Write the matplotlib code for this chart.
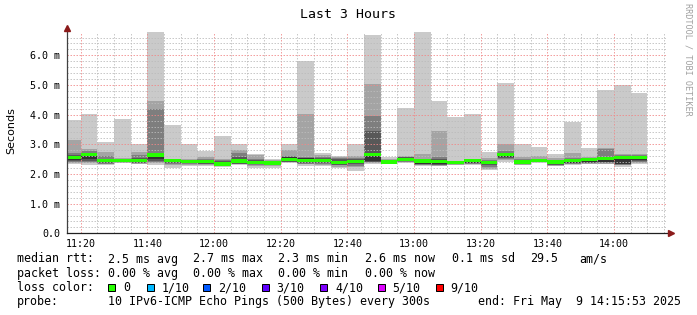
import numpy as np
import matplotlib.pyplot as plt
from matplotlib.patches import Rectangle

# 5-minute slots, minutes after 11:00 (first slot 11:15 .. last 14:05)
slot_start = np.arange(15, 190, 5)

# ping distribution per slot (ms), 10 pings sorted: min, p2..p9, max
p_max = [3.82, 4.01, 3.07, 3.85, 3.01, 6.90, 3.65, 3.01, 2.78, 3.29, 3.01, 2.67, 2.50, 3.00, 5.82, 2.72, 2.61, 3.01,
         6.69, 2.58, 4.22, 6.90, 4.46, 3.91, 4.01, 2.75, 5.06, 3.01, 2.90, 2.66, 3.76, 2.86, 4.83, 5.00, 4.72]
p9 = [3.15, 2.84, 2.75, 2.53, 2.73, 4.46, 2.50, 2.50, 2.58, 2.52, 2.81, 2.64, 2.48, 2.81, 4.02, 2.64, 2.58, 2.62,
      5.02, 2.52, 2.61, 2.68, 3.45, 2.45, 2.50, 2.53, 3.00, 2.58, 2.61, 2.53, 2.72, 2.58, 2.86, 2.66, 2.69]
p8 = [2.70, 2.76, 2.60, 2.51, 2.64, 4.19, 2.47, 2.47, 2.52, 2.48, 2.72, 2.52, 2.45, 2.62, 2.56, 2.58, 2.53, 2.55,
      3.97, 2.48, 2.57, 2.52, 2.58, 2.43, 2.48, 2.48, 2.76, 2.50, 2.52, 2.48, 2.55, 2.55, 2.83, 2.63, 2.63]
p7 = [2.64, 2.70, 2.52, 2.50, 2.55, 2.72, 2.45, 2.45, 2.48, 2.45, 2.58, 2.47, 2.42, 2.58, 2.54, 2.54, 2.49, 2.50,
      3.45, 2.46, 2.56, 2.49, 2.50, 2.42, 2.46, 2.44, 2.72, 2.46, 2.50, 2.46, 2.50, 2.53, 2.57, 2.62, 2.62]
p6 = [2.60, 2.64, 2.48, 2.49, 2.50, 2.66, 2.44, 2.43, 2.45, 2.42, 2.50, 2.42, 2.40, 2.56, 2.53, 2.52, 2.44, 2.47,
      2.72, 2.45, 2.55, 2.47, 2.48, 2.41, 2.45, 2.43, 2.70, 2.44, 2.49, 2.44, 2.48, 2.50, 2.53, 2.60, 2.61]
p5 = [2.47, 2.52, 2.40, 2.42, 2.39, 2.50, 2.40, 2.37, 2.37, 2.30, 2.36, 2.34, 2.33, 2.43, 2.40, 2.40, 2.33, 2.36,
      2.45, 2.37, 2.44, 2.34, 2.33, 2.35, 2.38, 2.34, 2.58, 2.36, 2.42, 2.33, 2.37, 2.39, 2.42, 2.35, 2.47]
p4 = [2.45, 2.45, 2.38, 2.41, 2.38, 2.45, 2.38, 2.36, 2.35, 2.29, 2.35, 2.33, 2.31, 2.42, 2.38, 2.37, 2.31, 2.33,
      2.42, 2.36, 2.43, 2.32, 2.31, 2.33, 2.37, 2.30, 2.55, 2.35, 2.41, 2.31, 2.36, 2.37, 2.40, 2.33, 2.45]
p3 = [2.42, 2.42, 2.35, 2.40, 2.37, 2.40, 2.35, 2.34, 2.33, 2.28, 2.33, 2.31, 2.29, 2.41, 2.35, 2.33, 2.29, 2.28,
      2.40, 2.35, 2.41, 2.30, 2.29, 2.32, 2.35, 2.25, 2.52, 2.33, 2.40, 2.30, 2.34, 2.36, 2.38, 2.31, 2.42]
p2 = [2.38, 2.38, 2.32, 2.38, 2.35, 2.36, 2.30, 2.31, 2.31, 2.27, 2.32, 2.27, 2.26, 2.40, 2.32, 2.30, 2.25, 2.22,
      2.37, 2.35, 2.39, 2.29, 2.27, 2.31, 2.33, 2.18, 2.47, 2.31, 2.39, 2.28, 2.32, 2.35, 2.35, 2.30, 2.38]
p_min = [2.33, 2.30, 2.29, 2.36, 2.33, 2.31, 2.21, 2.27, 2.27, 2.25, 2.30, 2.21, 2.21, 2.38, 2.28, 2.26, 2.21, 2.11,
         2.33, 2.34, 2.36, 2.27, 2.26, 2.29, 2.31, 2.15, 2.42, 2.29, 2.38, 2.26, 2.30, 2.33, 2.33, 2.25, 2.33]
median = [2.55, 2.65, 2.45, 2.46, 2.46, 2.64, 2.45, 2.41, 2.41, 2.34, 2.44, 2.38, 2.37, 2.48, 2.46, 2.46, 2.38, 2.41,
          2.66, 2.40, 2.50, 2.44, 2.43, 2.38, 2.45, 2.38, 2.66, 2.40, 2.45, 2.40, 2.45, 2.49, 2.51, 2.56, 2.56]

x_ticks = [20, 40, 60, 80, 100, 120, 140, 160, 180]
x_labels = ['11:20', '11:40', '12:00', '12:20', '12:40', '13:00', '13:20', '13:40', '14:00']
y_ticks = [0, 1, 2, 3, 4, 5, 6]
y_labels = ['0.0', '1.0 m', '2.0 m', '3.0 m', '4.0 m', '5.0 m', '6.0 m']

loss_names = ['0', '1/10', '2/10', '3/10', '4/10', '5/10', '9/10']
loss_colors = ['#26ff00', '#00b8ff', '#0059ff', '#5e00ff', '#7e00ff', '#dd00ff', '#ff0000']

W, H = 697, 315
mono = 'DejaVu Sans Mono'

fig = plt.figure(figsize=(W / 100, H / 100), dpi=100)
ax = fig.add_axes([67 / W, (H - 233.3) / H, 600 / W, 201.1 / H])

edges = np.append(slot_start, slot_start[-1] + 5)
smoke = [(p_min, p_max, '#cacaca'), (p2, p9, '#a4a4a4'), (p3, p8, '#7e7e7e'),
         (p4, p7, '#585858'), (p5, p6, '#323232')]
for lo, hi, col in smoke:
    ax.stairs(hi, edges, baseline=lo, fill=True, color=col, lw=0, zorder=1)

med = np.array(median)
ax.stairs(med + 0.055, edges, baseline=med - 0.055, fill=True, color=loss_colors[0], lw=0, zorder=3)

ax.set_xlim(15 + 53 / 60, 195 + 53 / 60)
ax.set_ylim(0, 6.78)

ax.set_xticks(x_ticks)
ax.set_xticklabels(x_labels, family=mono, fontsize=7.2)
ax.set_xticks(np.arange(20, 196, 5), minor=True)
ax.set_yticks(y_ticks)
ax.set_yticklabels(y_labels, family=mono, fontsize=7.2)
ax.set_yticks(np.arange(0, 6.8, 0.2), minor=True)
ax.tick_params(which='both', length=0)
ax.tick_params(axis='x', pad=4)
ax.tick_params(axis='y', pad=5)

ax.set_axisbelow(False)
ax.grid(which='minor', color='#bcbcbc', linestyle=(0, (1.5, 1.5)), linewidth=0.72, alpha=0.8)
ax.grid(which='major', color='#f08888', linestyle=(0, (1.5, 1.5)), linewidth=0.72, alpha=0.8)

for s in ax.spines.values():
    s.set_visible(False)
ax.plot([0, 0], [0, 1.02], transform=ax.transAxes, color='#404040', lw=0.9, clip_on=False, zorder=5)
ax.plot([0, 1.005], [0, 0], transform=ax.transAxes, color='#202020', lw=0.9, clip_on=False, zorder=5)
ax.plot(0, 1.02, marker='^', ms=4.5, color='#8b1a1a', transform=ax.transAxes, clip_on=False, zorder=6)
ax.plot(1.006, 0, marker='>', ms=4.5, color='#8b1a1a', transform=ax.transAxes, clip_on=False, zorder=6)

fig.text(348 / W, 1 - 14 / H, 'Last 3 Hours', family=mono, fontsize=9.5, ha='center', va='center')
fig.text(11 / W, 1 - 131 / H, 'Seconds', fontsize=8, rotation=90, ha='center', va='center')
fig.text(688 / W, 1 - 59 / H, 'RRDTOOL / TOBI OETIKER', family=mono, fontsize=6.1, rotation=270,
         ha='center', va='center', color='#a0a0a0')


def txt(x, y, s):
    fig.text(x / W, 1 - y / H, s, family=mono, fontsize=8.4, ha='left', va='center')


# legend block
txt(16.7, 259, 'median rtt:')
for x, s in [(108.3, '2.5 ms avg'), (193.3, '2.7 ms max'), (278.3, '2.3 ms min'), (365, '2.6 ms now'),
             (451.7, '0.1 ms sd'), (530, '29.5'), (579.3, 'am/s')]:
    txt(x, 259, s)
txt(16.7, 273.3, 'packet loss:')
for x, s in [(108.3, '0.00 % avg'), (193.3, '0.00 % max'), (278.3, '0.00 % min'), (365, '0.00 % now')]:
    txt(x, 273.3, s)
txt(16.7, 287.6, 'loss color:')
sq_x = [108.3, 146.7, 203.3, 261.7, 320, 377.7, 435.7]
for x, name, col in zip(sq_x, loss_names, loss_colors):
    fig.add_artist(Rectangle((x / W, 1 - 290.5 / H), 7 / W, 7 / H, transform=fig.transFigure,
                             facecolor=col, edgecolor='black', lw=0.72))
    txt(x + 15, 287.6, name)
txt(16.7, 301.9, 'probe:')
txt(108.3, 301.9, '10 IPv6-ICMP Echo Pings (500 Bytes) every 300s')
txt(478.3, 301.9, 'end: Fri May  9 14:15:53 2025')

fig.savefig('out.png', dpi=100)
